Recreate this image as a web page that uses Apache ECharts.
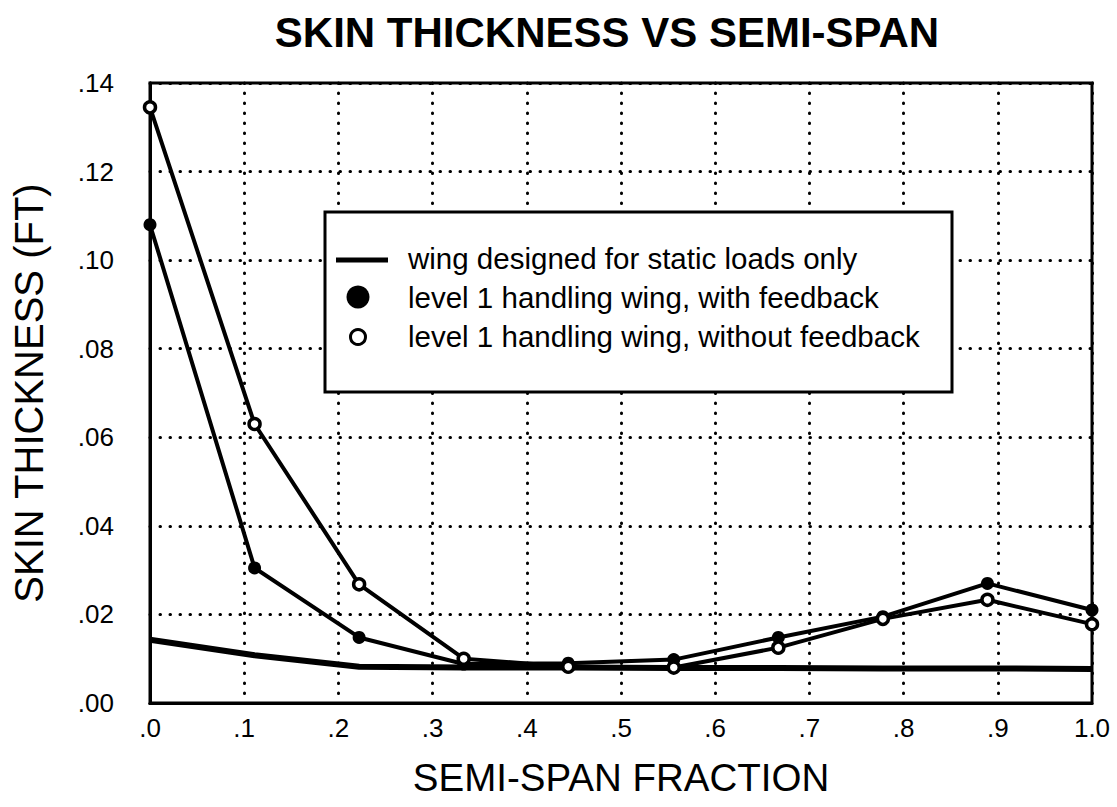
<!DOCTYPE html>
<html>
<head>
<meta charset="utf-8">
<script src="https://cdn.jsdelivr.net/npm/echarts@6/dist/echarts.min.js"></script>
<style>
  html, body { margin: 0; padding: 0; background: #fff; }
  #chart { width: 1117px; height: 807px; }
</style>
</head>
<body>
<div id="chart"></div>
<script>
// ---- data ----
const spanFraction = [0.000, 0.111, 0.222, 0.333, 0.444, 0.556, 0.667, 0.778, 0.889, 1.000];
const staticLoads     = [0.0143, 0.0108, 0.0082, 0.0080, 0.0080, 0.0079, 0.0079, 0.0078, 0.0078, 0.0077];
const withFeedback    = [0.1080, 0.0305, 0.0148, 0.0088, 0.0090, 0.0098, 0.0148, 0.0195, 0.0270, 0.0210];
const withoutFeedback = [0.1345, 0.0630, 0.0268, 0.0100, 0.0082, 0.0080, 0.0125, 0.0190, 0.0233, 0.0178];
const seriesNames = [
  'wing designed for static loads only',
  'level 1 handling wing, with feedback',
  'level 1 handling wing, without feedback'
];
const xTickLabels = ['.0', '.1', '.2', '.3', '.4', '.5', '.6', '.7', '.8', '.9', '1.0'];
const yTickLabels = ['.00', '.02', '.04', '.06', '.08', '.10', '.12', '.14'];
const titleText = 'SKIN THICKNESS VS SEMI-SPAN';
const xAxisTitle = 'SEMI-SPAN FRACTION';
const yAxisTitle = 'SKIN THICKNESS (FT)';

const pairs = (ys) => spanFraction.map((x, i) => [x, ys[i]]);
const FONT = '"Liberation Sans", Arial, Helvetica, sans-serif';

const chart = echarts.init(document.getElementById('chart'), null, { renderer: 'svg' });

const dotted = { color: '#000', width: 3, type: [0.5, 9.5], cap: 'round' };

chart.setOption({
  backgroundColor: '#fff',
  animation: false,
  title: {
    text: titleText,
    left: 607,
    top: 11,
    padding: 0,
    textAlign: 'center',
    textStyle: { fontFamily: FONT, fontSize: 42, fontWeight: 'bold', color: '#000' }
  },
  grid: {
    left: 150, right: 25, top: 83, bottom: 104,
    show: true, borderColor: '#000', borderWidth: 3, backgroundColor: 'transparent'
  },
  xAxis: {
    type: 'value', min: 0, max: 1, interval: 0.1,
    name: xAxisTitle, nameLocation: 'middle', nameGap: 55,
    nameTextStyle: { fontFamily: FONT, fontSize: 38.5, color: '#000' },
    axisLine: { show: true, lineStyle: { color: '#000', width: 3 } },
    axisTick: { show: false },
    axisLabel: {
      margin: 12, fontFamily: FONT, fontSize: 26, color: '#000',
      formatter: (v, i) => xTickLabels[i]
    },
    splitLine: { show: true, lineStyle: dotted }
  },
  yAxis: {
    type: 'value', min: 0, max: 0.14, interval: 0.02,
    name: yAxisTitle, nameLocation: 'middle', nameGap: 101, nameRotate: 90,
    nameTextStyle: { fontFamily: FONT, fontSize: 40, color: '#000' },
    axisLine: { show: true, lineStyle: { color: '#000', width: 3 } },
    axisTick: { show: false },
    axisLabel: {
      margin: 36, fontFamily: FONT, fontSize: 26, color: '#000',
      formatter: (v, i) => yTickLabels[i]
    },
    splitLine: { show: true, lineStyle: dotted }
  },
  legend: { show: false },
  series: [
    {
      name: seriesNames[0], type: 'line', data: pairs(staticLoads),
      showSymbol: false, symbol: 'none', clip: false,
      lineStyle: { color: '#000', width: 6 }, z: 3
    },
    {
      name: seriesNames[1], type: 'line', data: pairs(withFeedback),
      symbol: 'circle', symbolSize: 13, clip: false,
      lineStyle: { color: '#000', width: 4 },
      itemStyle: { color: '#000', borderColor: '#000', borderWidth: 0 }, z: 4
    },
    {
      name: seriesNames[2], type: 'line', data: pairs(withoutFeedback),
      symbol: 'circle', symbolSize: 11, clip: false,
      lineStyle: { color: '#000', width: 4 },
      itemStyle: { color: '#fff', borderColor: '#000', borderWidth: 3.5 }, z: 5
    }
  ],
  graphic: [
    { type: 'rect', z: 100, shape: { x: 325, y: 212, width: 627, height: 180 },
      style: { fill: '#fff', stroke: '#000', lineWidth: 3 } },
    { type: 'line', z: 101, shape: { x1: 336, y1: 260, x2: 388, y2: 260 },
      style: { stroke: '#000', lineWidth: 5 } },
    { type: 'circle', z: 101, shape: { cx: 358, cy: 297, r: 11.5 },
      style: { fill: '#000' } },
    { type: 'circle', z: 101, shape: { cx: 358, cy: 337, r: 7.5 },
      style: { fill: '#fff', stroke: '#000', lineWidth: 3 } },
    { type: 'text', z: 101, x: 408, y: 258,
      style: { text: seriesNames[0], font: '29.5px ' + FONT, fill: '#000', verticalAlign: 'middle' } },
    { type: 'text', z: 101, x: 408, y: 297,
      style: { text: seriesNames[1], font: '29.5px ' + FONT, fill: '#000', verticalAlign: 'middle' } },
    { type: 'text', z: 101, x: 408, y: 336,
      style: { text: seriesNames[2], font: '29.5px ' + FONT, fill: '#000', verticalAlign: 'middle' } }
  ]
});
</script>
</body>
</html>
